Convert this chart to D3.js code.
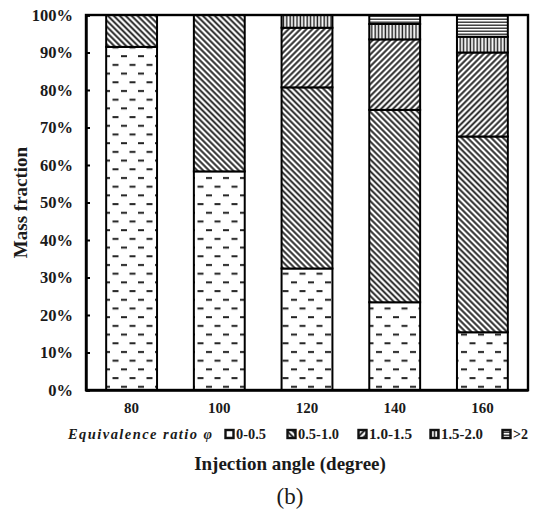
<!DOCTYPE html>
<html>
<head>
<meta charset="utf-8">
<script src="https://cdn.jsdelivr.net/npm/d3@7"></script>
<style>
  body { margin: 0; background: #fff; }
  svg text { font-family: "Liberation Serif", "Times New Roman", serif; fill: #1a1a1a; }
</style>
</head>
<body>
<div id="chart"></div>
<script>
// injection angles (degree)
const angles = ["80", "100", "120", "140", "160"];
// equivalence ratio bins
const bins = ["0-0.5", "0.5-1.0", "1.0-1.5", "1.5-2.0", ">2"];
// mass fraction (%) per bin, one value per angle
const phi0to05   = [91.5, 58.3, 32.4, 23.4, 15.4];
const phi05to10  = [8.5, 41.7, 48.3, 51.3, 52.2];
const phi10to15  = [0, 0, 15.9, 18.8, 22.4];
const phi15to20  = [0, 0, 3.4, 4.1, 4.2];
const phiAbove2  = [0, 0, 0, 2.4, 5.8];
const yTicks = [0, 10, 20, 30, 40, 50, 60, 70, 80, 90, 100];

const series = [phi0to05, phi05to10, phi10to15, phi15to20, phiAbove2];
const table = angles.map((a, i) => {
    let row = { angle: a };
    bins.forEach((b, j) => { row[b] = series[j][i]; });
    return row;
});

const width = 533, height = 513;
const margin = { top: 15, right: 5, bottom: 123, left: 86 };

const svg = d3.select("#chart").append("svg")
    .attr("width", width)
    .attr("height", height);

// hatch patterns
const defs = svg.append("defs");
const patDash = defs.append("pattern").attr("id", "p0")
    .attr("patternUnits", "userSpaceOnUse")
    .attr("width", 17).attr("height", 17.4);
patDash.append("rect").attr("width", 17).attr("height", 17.4).attr("fill", "#fff");
patDash.append("line").attr("x1", 2).attr("x2", 8).attr("y1", 4).attr("y2", 4)
    .attr("stroke", "#222").attr("stroke-width", 2);
patDash.append("line").attr("x1", 10.5).attr("x2", 16.5).attr("y1", 12.7).attr("y2", 12.7)
    .attr("stroke", "#222").attr("stroke-width", 2);

function diag(id, back) {
    let p = defs.append("pattern").attr("id", id)
        .attr("patternUnits", "userSpaceOnUse")
        .attr("width", 4.2).attr("height", 4.2)
        .attr("patternTransform", back ? "rotate(-45)" : "rotate(45)");
    p.append("rect").attr("width", 4.2).attr("height", 4.2).attr("fill", "#fff");
    p.append("line").attr("x1", 2.1).attr("x2", 2.1).attr("y1", 0).attr("y2", 4.2)
        .attr("stroke", "#222").attr("stroke-width", 1.9);
}
diag("p1", true);
diag("p2", false);

const patV = defs.append("pattern").attr("id", "p3")
    .attr("patternUnits", "userSpaceOnUse").attr("width", 3.4).attr("height", 4);
patV.append("rect").attr("width", 3.4).attr("height", 4).attr("fill", "#fff");
patV.append("line").attr("x1", 1.2).attr("x2", 1.2).attr("y1", 0).attr("y2", 4)
    .attr("stroke", "#222").attr("stroke-width", 1.5);

const patH = defs.append("pattern").attr("id", "p4")
    .attr("patternUnits", "userSpaceOnUse").attr("width", 4).attr("height", 3);
patH.append("rect").attr("width", 4).attr("height", 3).attr("fill", "#fff");
patH.append("line").attr("x1", 0).attr("x2", 4).attr("y1", 1.2).attr("y2", 1.2)
    .attr("stroke", "#222").attr("stroke-width", 1.3);

const fills = ["url(#p0)", "url(#p1)", "url(#p2)", "url(#p3)", "url(#p4)"];

const xScale = d3.scaleBand()
    .domain(angles)
    .range([margin.left, width - margin.right])
    .paddingInner(0.42)
    .paddingOuter(0.23);

const yScale = d3.scaleLinear()
    .domain([0, 100])
    .range([height - margin.bottom, margin.top]);

const stack = d3.stack().keys(bins);
const layers = stack(table);

const barGrp = svg.append("g");
layers.forEach((layer, j) => {
    barGrp.selectAll("rect.s" + j)
        .data(layer.filter(d => d[1] - d[0] > 0))
        .enter().append("rect")
        .attr("class", "s" + j)
        .attr("x", d => xScale(d.data.angle))
        .attr("width", xScale.bandwidth())
        .attr("y", d => yScale(d[1]))
        .attr("height", d => yScale(d[0]) - yScale(d[1]))
        .attr("fill", fills[j])
        .attr("stroke", "#000")
        .attr("stroke-width", 2);
});

// frame
svg.append("rect")
    .attr("x", margin.left).attr("y", margin.top)
    .attr("width", width - margin.right - margin.left)
    .attr("height", yScale(0) - margin.top)
    .attr("fill", "none").attr("stroke", "#000").attr("stroke-width", 2.4);

// y axis
const yAxis = d3.axisLeft(yScale)
    .tickValues(yTicks)
    .tickSize(-4)
    .tickPadding(13)
    .tickFormat(d => d + "%");
const yG = svg.append("g")
    .attr("transform", `translate(${margin.left},0)`)
    .call(yAxis);
yG.select(".domain").attr("stroke-width", 2.4);
yG.selectAll(".tick line").attr("stroke-width", 2);
yG.selectAll("text")
    .style("font-size", "16.5px").style("font-weight", "bold");

// x axis
const xAxis = d3.axisBottom(xScale).tickSize(0).tickPadding(12);
const xG = svg.append("g")
    .attr("transform", `translate(0,${yScale(0)})`)
    .call(xAxis);
xG.select(".domain").attr("stroke-width", 2.4);
xG.selectAll("text")
    .style("font-size", "15px").style("font-weight", "bold");

// y title
svg.append("text")
    .attr("transform", `translate(27,${yScale(50)}) rotate(-90)`)
    .attr("text-anchor", "middle")
    .style("font-size", "19px").style("font-weight", "bold")
    .text("Mass fraction");

// legend
const legY = 434;
svg.append("text")
    .attr("x", 68).attr("y", legY + 5)
    .style("font-size", "14.5px").style("font-weight", "bold").style("font-style", "italic")
    .attr("textLength", 144)
    .text("Equivalence ratio φ");
const legX = [225, 287, 358, 430, 502];
const legW = [30, 41, 43, 42, 15];
const leg = svg.append("g").selectAll("g")
    .data(bins).enter().append("g")
    .attr("transform", (d, i) => `translate(${legX[i]},${legY})`);
leg.append("rect")
    .attr("x", 0.5).attr("y", -4).attr("width", 8).attr("height", 8)
    .attr("fill", (d, i) => fills[i])
    .attr("stroke", "#111").attr("stroke-width", 2.4);
leg.append("text")
    .attr("x", 11).attr("y", 5)
    .style("font-size", "15px").style("font-weight", "bold")
    .attr("textLength", (d, i) => legW[i])
    .attr("lengthAdjust", "spacingAndGlyphs")
    .text(d => d);

// x title
svg.append("text")
    .attr("x", 290).attr("y", 470)
    .attr("text-anchor", "middle")
    .style("font-size", "19px").style("font-weight", "bold")
    .text("Injection angle (degree)");

svg.append("text")
    .attr("x", 290).attr("y", 504)
    .attr("text-anchor", "middle")
    .style("font-size", "23px")
    .text("(b)");
</script>
</body>
</html>
